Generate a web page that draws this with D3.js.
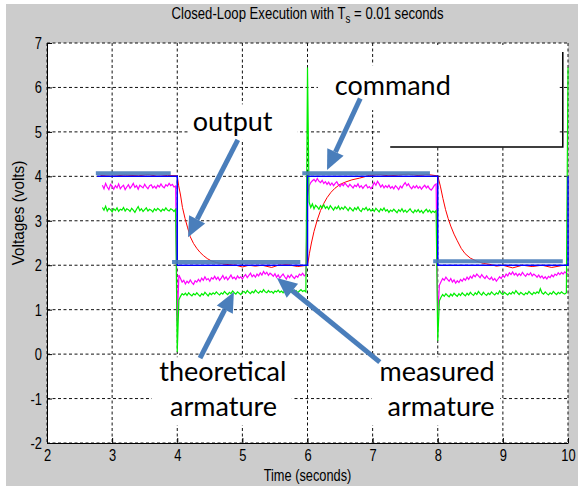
<!DOCTYPE html>
<html>
<head>
<meta charset="utf-8">
<script src="https://cdn.jsdelivr.net/npm/d3@7"></script>
<style>
    body { margin: 0; background: #fff; }
    svg { display: block; }
    .axis text { font-family: "Liberation Sans", Arial, sans-serif; font-size: 17px; fill: #000; }
    .axis path, .axis line { stroke: #000; }
    .note { font-family: Lato, "Open Sans", sans-serif; font-size: 27px; fill: #000; }
</style>
</head>
<body>
<div id="chart-area"></div>
<script>
//============================DATA============================
// axis ticks
var xTicks = [2, 3, 4, 5, 6, 7, 8, 9, 10];
var yTicks = [-2, -1, 0, 1, 2, 3, 4, 5, 6, 7];

// command (blue step)
var commandTime  = [2.77, 4.0, 4.0, 6.0, 6.0, 8.0, 8.0, 10.0, 10.0];
var commandVolts = [4, 4, 2, 2, 4, 4, 2, 2, 4];

// output (red)
var outputTime = [2.82, 3.0, 3.2, 3.4, 3.55, 3.7, 3.85, 4.0,
    4.02, 4.05, 4.08, 4.12, 4.16, 4.2, 4.25, 4.3, 4.35, 4.4, 4.46, 4.52, 4.6, 4.7, 4.8,
    4.9, 5.0, 5.1, 5.2, 5.3, 5.45, 5.55, 5.7, 5.85, 6.0,
    6.03, 6.06, 6.1, 6.15, 6.2, 6.25, 6.3, 6.36, 6.42, 6.5, 6.58, 6.68, 6.8,
    6.95, 7.1, 7.25, 7.4, 7.55, 7.7, 7.85, 8.0,
    8.04, 8.08, 8.12, 8.16, 8.2, 8.25, 8.3, 8.36, 8.42, 8.5, 8.6, 8.7, 8.8,
    8.9, 9.0, 9.15, 9.3, 9.45, 9.6, 9.75, 9.9, 10.0];
var outputVolts = [4.02, 4.00, 4.03, 4.01, 4.04, 4.00, 4.02, 4.01,
    3.80, 3.58, 3.30, 3.05, 2.84, 2.64, 2.49, 2.38, 2.29, 2.22, 2.15, 2.10, 2.06, 2.03, 2.01,
    2.00, 1.96, 2.00, 1.98, 2.00, 1.95, 2.00, 2.01, 1.97, 2.00,
    2.27, 2.50, 2.76, 3.02, 3.23, 3.39, 3.52, 3.64, 3.73, 3.82, 3.87, 3.92, 3.96,
    4.02, 4.04, 4.01, 4.03, 4.05, 4.02, 4.04, 4.01,
    3.78, 3.50, 3.25, 3.05, 2.88, 2.70, 2.55, 2.38, 2.26, 2.16, 2.09, 2.04, 2.02,
    1.98, 2.00, 1.94, 2.00, 1.97, 2.00, 1.95, 1.99, 2.00];

// measured and theoretical armature, sampled every 0.025 s from 2.85 s
var sampleStart = 2.85;
var sampleStep = 0.025;
var measuredVolts = [
    3.80, 3.72, 3.84, 3.76, 3.70, 3.82, 3.78, 3.71, 3.79, 3.74, 3.83, 3.72, 3.77, 3.80, 3.70, 3.76,
    3.81, 3.73, 3.78, 3.84, 3.75, 3.79, 3.71, 3.80, 3.77, 3.74, 3.82, 3.76, 3.72, 3.79, 3.81, 3.74,
    3.78, 3.73, 3.80, 3.76, 3.83, 3.77, 3.74, 3.81, 3.78, 3.84, 3.79, 3.82, 3.76, 3.78,
    0.70,
    1.78, 1.70, 1.62, 1.66,
    1.58, 1.64, 1.60, 1.67, 1.61, 1.57, 1.65, 1.62,
    1.68, 1.63, 1.71, 1.66, 1.74, 1.67, 1.70, 1.64, 1.72, 1.69,
    1.75, 1.68, 1.73, 1.66, 1.71, 1.77, 1.69, 1.74, 1.67, 1.72, 1.78, 1.70, 1.73, 1.68, 1.76, 1.71, 1.74, 1.69,
    1.75, 1.79, 1.72, 1.77, 1.82, 1.74, 1.78, 1.73, 1.80, 1.76, 1.83, 1.78, 1.86, 1.80, 1.84, 1.77, 1.82, 1.79, 1.75, 1.81,
    1.73, 1.78, 1.71, 1.76, 1.80, 1.74, 1.69, 1.77, 1.72, 1.79, 1.74, 1.70, 1.76, 1.73, 1.80, 1.77, 1.82, 1.76, 1.79,
    3.55, 3.78, 3.86, 3.90,
    3.93, 3.88, 3.95, 3.89, 3.86, 3.91, 3.84, 3.88,
    3.82, 3.87, 3.80, 3.85, 3.79, 3.84, 3.88, 3.81, 3.77, 3.83, 3.79, 3.85,
    3.80, 3.76, 3.82, 3.78, 3.74, 3.80, 3.77, 3.83, 3.75, 3.79, 3.73, 3.78, 3.81, 3.74, 3.77, 3.72,
    3.78, 3.86, 3.80, 3.89, 3.83, 3.76, 3.81, 3.74, 3.79, 3.75, 3.80, 3.73,
    3.77, 3.72, 3.79, 3.75, 3.70, 3.78, 3.74, 3.81, 3.86, 3.79, 3.83, 3.76, 3.72, 3.78, 3.74, 3.79,
    3.73, 3.77, 3.71, 3.76, 3.80, 3.74, 3.78, 3.72, 3.69, 3.74, 3.80, 3.83,
    0.85,
    1.55, 1.63, 1.70, 1.66, 1.73, 1.68, 1.64, 1.70,
    1.62, 1.67, 1.60, 1.65, 1.61, 1.68, 1.64, 1.70, 1.66, 1.73, 1.68, 1.75,
    1.71, 1.78, 1.74, 1.80, 1.76, 1.72, 1.79, 1.74, 1.70, 1.76, 1.71, 1.68,
    1.73, 1.66, 1.70, 1.64, 1.69, 1.74, 1.70, 1.77, 1.73, 1.80, 1.76, 1.83,
    1.79, 1.85, 1.78, 1.82, 1.76, 1.81, 1.77, 1.84, 1.79, 1.75, 1.81, 1.78, 1.83, 1.76, 1.80, 1.77,
    1.73, 1.78, 1.72, 1.76, 1.70, 1.74, 1.69, 1.75, 1.72, 1.78, 1.74, 1.80, 1.77, 1.83, 1.79, 1.84, 1.80, 1.85, 1.82,
    1.80];
var theoreticalVolts = [
    3.30, 3.24, 3.33, 3.22, 3.28, 3.25, 3.20, 3.27, 3.23, 3.29, 3.21, 3.26, 3.24, 3.30, 3.22, 3.27,
    3.25, 3.21, 3.28, 3.24, 3.19, 3.26, 3.32, 3.23, 3.27, 3.21, 3.25, 3.29, 3.22, 3.26, 3.24, 3.20,
    3.27, 3.23, 3.28, 3.25, 3.21, 3.26, 3.23, 3.29, 3.24, 3.22, 3.27, 3.25, 3.21, 3.26,
    0.05,
    1.22, 1.30, 1.36, 1.33,
    1.37, 1.32, 1.38, 1.34, 1.31, 1.36, 1.33, 1.38,
    1.34, 1.30, 1.36, 1.33, 1.39, 1.35, 1.31, 1.37, 1.34, 1.38,
    1.35, 1.40, 1.36, 1.33, 1.38, 1.35, 1.41, 1.37, 1.34, 1.39, 1.36, 1.42, 1.38, 1.35, 1.40, 1.37, 1.34, 1.39,
    1.41, 1.37, 1.43, 1.39, 1.36, 1.41, 1.38, 1.44, 1.40, 1.37, 1.42, 1.39, 1.45, 1.40, 1.38, 1.43, 1.39, 1.41, 1.37, 1.42,
    1.40, 1.44, 1.39, 1.42, 1.38, 1.43, 1.40, 1.46, 1.41, 1.39, 1.44, 1.40, 1.43, 1.38, 1.42, 1.45, 1.41, 1.43, 1.40,
    6.45,
    3.42, 3.30, 3.38, 3.27, 3.35, 3.31, 3.26, 3.34, 3.29, 3.36, 3.28,
    3.32, 3.26, 3.34, 3.29, 3.24, 3.31, 3.27, 3.33, 3.25, 3.30, 3.26, 3.32,
    3.28, 3.23, 3.30, 3.26, 3.22, 3.29, 3.25, 3.31, 3.24, 3.21, 3.28, 3.25, 3.30, 3.23, 3.27, 3.22,
    3.26, 3.21, 3.28, 3.24, 3.20, 3.27, 3.23, 3.29, 3.22, 3.25, 3.19, 3.24,
    3.21, 3.26, 3.22, 3.18, 3.25, 3.21, 3.27, 3.20, 3.24, 3.19, 3.23, 3.27, 3.21, 3.18, 3.24, 3.20,
    3.25, 3.19, 3.23, 3.17, 3.22, 3.26, 3.20, 3.24, 3.18, 3.22, 3.19, 3.23,
    0.30,
    1.20, 1.28, 1.34, 1.30, 1.36, 1.32, 1.29, 1.35,
    1.31, 1.37, 1.33, 1.30, 1.36, 1.32, 1.38, 1.34, 1.31, 1.37, 1.33, 1.39,
    1.35, 1.32, 1.38, 1.34, 1.41, 1.36, 1.33, 1.39, 1.35, 1.32, 1.37, 1.34,
    1.40, 1.36, 1.33, 1.38, 1.35, 1.42, 1.37, 1.34, 1.39, 1.36, 1.33, 1.38,
    1.35, 1.40, 1.36, 1.43, 1.38, 1.34, 1.39, 1.36, 1.33, 1.38, 1.35, 1.41, 1.37, 1.34, 1.39, 1.36,
    1.40, 1.37, 1.47, 1.38, 1.35, 1.40, 1.36, 1.33, 1.38, 1.35, 1.41, 1.37, 1.34, 1.39, 1.36, 1.40, 1.37, 1.35, 1.38,
    6.45];

// annotation overlays (data coordinates)
var highlightBars = [
    {x0: 2.75, x1: 3.90, y: 4.07},
    {x0: 3.92, x1: 5.89, y: 2.07},
    {x0: 5.92, x1: 7.88, y: 4.07},
    {x0: 7.93, x1: 9.92, y: 2.09}
];
var noteBoxes = [
    {x0: 4.17, x1: 5.85, y0: 5.62, y1: 4.82},
    {x0: 6.16, x1: 8.45, y0: 6.50, y1: 5.49},
    {x0: 3.61, x1: 5.76, y0: -0.07, y1: -1.60},
    {x0: 6.99, x1: 8.96, y0: -0.07, y1: -1.60}
];
var noteTexts = [
    {text: "output", x: 4.85, y: 5.02},
    {text: "command", x: 7.31, y: 5.83},
    {text: "theoretical", x: 4.70, y: -0.61},
    {text: "armature", x: 4.71, y: -1.39},
    {text: "measured", x: 7.99, y: -0.61},
    {text: "armature", x: 8.05, y: -1.39}
];
var noteArrows = [
    {x0: 4.93, y0: 4.82, x1: 4.165, y1: 2.63},
    {x0: 6.81, y0: 5.75, x1: 6.30, y1: 4.14},
    {x0: 4.35, y0: -0.09, x1: 4.87, y1: 1.40},
    {x0: 7.11, y0: -0.18, x1: 5.53, y1: 1.71}
];
// leftover white panel in the upper right
var panel = {x0: 7.13, x1: 9.92, y0: 6.955, y1: 4.66, lineX0: 7.27, lineY0: 6.80, ticksY: [6, 5]};

//============================SETUP============================
var margins = {left: 47, right: 10, top: 43, bottom: 43};
var width = 578 - margins.left - margins.right;
var height = 486 - margins.top - margins.bottom;
var narrow = 0.76; // squeeze for the condensed MATLAB lettering

var svg = d3.select("#chart-area")
    .append("svg")
    .attr("width", 578)
    .attr("height", 486);

// figure background
svg.append("rect")
    .attr("x", 6).attr("y", 4)
    .attr("width", 572).attr("height", 482)
    .attr("fill", "#cccccc");

var g = svg.append("g")
    .attr("transform", "translate(" + margins.left + ", " + margins.top + ")");

var x = d3.scaleLinear().domain([2, 10]).range([0, width]);
var y = d3.scaleLinear().domain([-2, 7]).range([height, 0]);

// plot area
g.append("rect")
    .attr("width", width).attr("height", height)
    .attr("fill", "#fff");

// dotted grid
g.selectAll(".vgrid").data(xTicks).enter().append("line")
    .attr("x1", function(d){ return x(d); }).attr("x2", function(d){ return x(d); })
    .attr("y1", 0).attr("y2", height)
    .attr("stroke", "#111").attr("stroke-dasharray", "3,2.5");
g.selectAll(".hgrid").data(yTicks).enter().append("line")
    .attr("y1", function(d){ return y(d); }).attr("y2", function(d){ return y(d); })
    .attr("x1", 0).attr("x2", width)
    .attr("stroke", "#111").attr("stroke-dasharray", "3,2.5");

// clip for the traces
g.append("clipPath").attr("id", "plot-clip")
    .append("rect").attr("x", -1).attr("y", -1).attr("width", width + 3).attr("height", height + 2);

var traces = g.append("g").attr("clip-path", "url(#plot-clip)");

function sampleLine(values){
    return d3.line()
        .x(function(d, i){ return x(sampleStart + i * sampleStep); })
        .y(function(d){ return y(d); })(values);
}
function pairLine(times, values){
    return d3.line()
        .x(function(d, i){ return x(times[i]); })
        .y(function(d){ return y(d); })(values);
}

traces.append("path")
    .attr("d", pairLine(outputTime, outputVolts))
    .attr("fill", "none").attr("stroke", "#ff0000").attr("stroke-width", 1);
traces.append("path")
    .attr("d", sampleLine(measuredVolts))
    .attr("fill", "none").attr("stroke", "#ff00ff").attr("stroke-width", 1.2);
traces.append("path")
    .attr("d", sampleLine(theoreticalVolts))
    .attr("fill", "none").attr("stroke", "#00ee00").attr("stroke-width", 1.2);
traces.append("path")
    .attr("d", pairLine(commandTime, commandVolts))
    .attr("fill", "none").attr("stroke", "#0000ff").attr("stroke-width", 1.5);

// axes
var xAxisCall = d3.axisBottom(x)
    .tickValues(xTicks)
    .tickSize(-5).tickSizeOuter(0).tickPadding(6)
    .tickFormat(function(d){ return String(d); });
g.append("g")
    .attr("class", "x axis")
    .attr("transform", "translate(0, " + height + ")")
    .call(xAxisCall)
    .selectAll("text")
    .attr("transform", "scale(" + narrow + ",1)");

var yAxisCall = d3.axisLeft(y)
    .tickValues(yTicks)
    .tickSize(-5).tickSizeOuter(0).tickPadding(5)
    .tickFormat(function(d){ return String(d); });
g.append("g")
    .attr("class", "y axis")
    .call(yAxisCall)
    .selectAll("text")
    .attr("x", -5 / narrow)
    .attr("transform", "scale(" + narrow + ",1)");

// title and axis labels
var title = svg.append("text")
    .attr("transform", "translate(" + (margins.left + width / 2) + ",19) scale(0.82,1)")
    .attr("text-anchor", "middle")
    .attr("font-family", "'Liberation Sans', Arial, sans-serif")
    .attr("font-size", "16px");
title.append("tspan").text("Closed-Loop Execution with T");
title.append("tspan").attr("font-size", "12px").attr("dy", 4).text("s");
title.append("tspan").attr("dy", -4).text(" = 0.01 seconds");

svg.append("text")
    .attr("transform", "translate(" + (margins.left + width / 2) + ",481) scale(0.8,1)")
    .attr("text-anchor", "middle")
    .attr("font-family", "'Liberation Sans', Arial, sans-serif")
    .attr("font-size", "16px")
    .text("Time (seconds)");

svg.append("text")
    .attr("transform", "translate(24, 213) rotate(-90) scale(0.9,1)")
    .attr("text-anchor", "middle")
    .attr("font-family", "'Liberation Sans', Arial, sans-serif")
    .attr("font-size", "17px")
    .text("Voltages (volts)");

//============================ANNOTATIONS============================
var notes = g.append("g");

// white panel upper right
notes.append("rect")
    .attr("x", x(panel.x0)).attr("y", y(panel.y0))
    .attr("width", x(panel.x1) - x(panel.x0)).attr("height", y(panel.y1) - y(panel.y0))
    .attr("fill", "#fff");
notes.append("path")
    .attr("d", "M" + x(panel.lineX0) + "," + y(panel.y1) + "H" + x(panel.x1) + "V" + y(panel.lineY0))
    .attr("fill", "none").attr("stroke", "#000").attr("stroke-width", 1.5);
notes.selectAll(".ptick").data(panel.ticksY).enter().append("line")
    .attr("x1", x(panel.x1) - 3).attr("x2", x(panel.x1))
    .attr("y1", function(d){ return y(d); }).attr("y2", function(d){ return y(d); })
    .attr("stroke", "#000");

// white text boxes
notes.selectAll(".nbox").data(noteBoxes).enter().append("rect")
    .attr("x", function(d){ return x(d.x0); })
    .attr("y", function(d){ return y(d.y0); })
    .attr("width", function(d){ return x(d.x1) - x(d.x0); })
    .attr("height", function(d){ return y(d.y1) - y(d.y0); })
    .attr("fill", "#fff");

notes.selectAll(".ntext").data(noteTexts).enter().append("text")
    .attr("class", "note")
    .attr("x", function(d){ return x(d.x); })
    .attr("y", function(d){ return y(d.y); })
    .attr("text-anchor", "middle")
    .text(function(d){ return d.text; });

// steel blue highlight bars over the command
notes.selectAll(".hbar").data(highlightBars).enter().append("line")
    .attr("x1", function(d){ return x(d.x0); })
    .attr("x2", function(d){ return x(d.x1); })
    .attr("y1", function(d){ return y(d.y); })
    .attr("y2", function(d){ return y(d.y); })
    .attr("stroke", "#4a7ebb").attr("stroke-width", 4).attr("opacity", 0.9);

// arrows
noteArrows.forEach(function(a){
    var px0 = x(a.x0), py0 = y(a.y0), px1 = x(a.x1), py1 = y(a.y1);
    var dx = px1 - px0, dy = py1 - py0, len = Math.sqrt(dx * dx + dy * dy);
    var ux = dx / len, uy = dy / len;
    var headLen = 20, headHalf = 9;
    var bx = px1 - ux * headLen, by = py1 - uy * headLen;
    notes.append("line")
        .attr("x1", px0).attr("y1", py0).attr("x2", bx).attr("y2", by)
        .attr("stroke", "#4a7ebb").attr("stroke-width", 5);
    notes.append("path")
        .attr("d", "M" + px1 + "," + py1 +
            "L" + (bx - uy * headHalf) + "," + (by + ux * headHalf) +
            "L" + (bx + uy * headHalf) + "," + (by - ux * headHalf) + "Z")
        .attr("fill", "#4a7ebb");
});
</script>
</body>
</html>
